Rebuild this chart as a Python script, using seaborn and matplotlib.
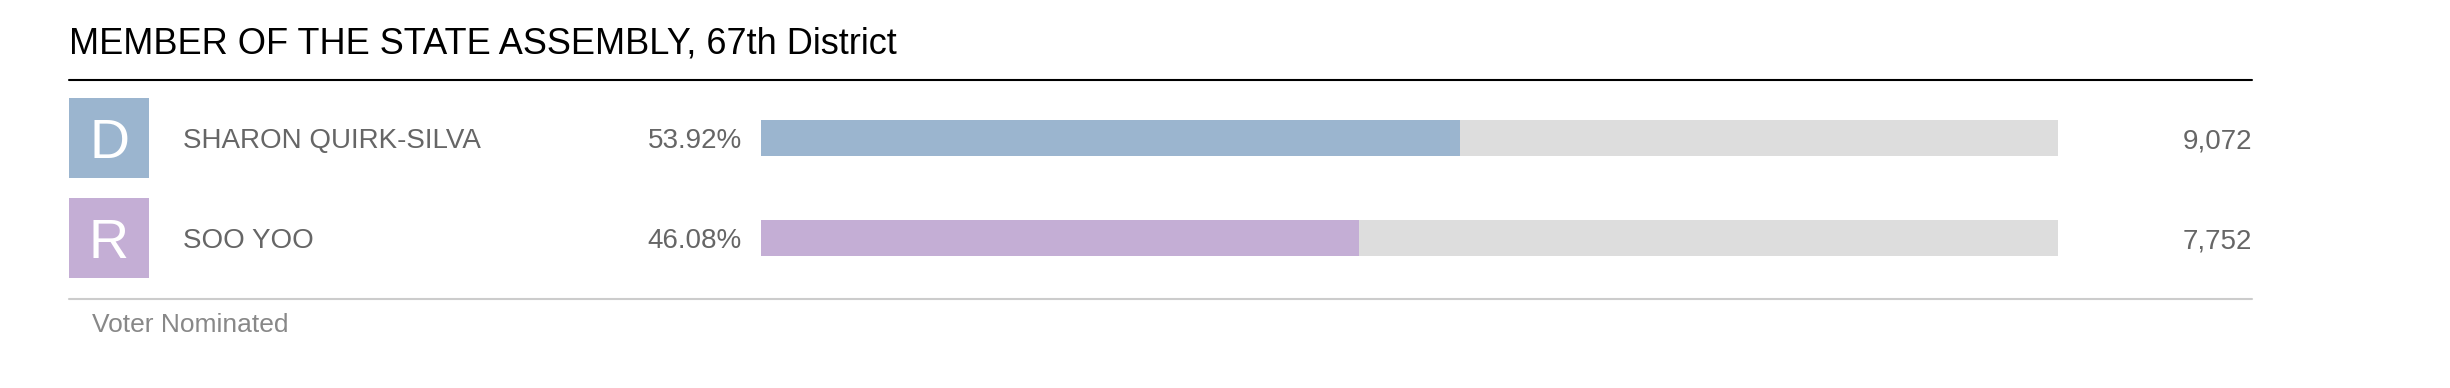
import matplotlib
matplotlib.use("Agg")
import matplotlib.pyplot as plt
import matplotlib.transforms as mtrans
from matplotlib.lines import Line2D
import seaborn as sns
import pandas as pd

# ---- data ----
title = "MEMBER OF THE STATE ASSEMBLY, 67th District"
candidates = ["SHARON QUIRK-SILVA", "SOO YOO"]
parties = ["D", "R"]
pcts = [53.92, 46.08]
votes = [9072, 7752]
footnote = "Voter Nominated"

party_colors = {"D": "#9bb5cf", "R": "#c4aed5"}
track_color = "#dddddd"

sns.set_theme(style="white")
plt.rcParams["font.family"] = ["Liberation Sans", "DejaVu Sans"]

W, H = 2450, 388
fig = plt.figure(figsize=(W / 100, H / 100), dpi=100)

def fx(px):
    return px / W

def fy(py):
    return 1 - py / H

df = pd.DataFrame({"candidate": candidates, "party": parties, "pct": pcts,
                   "track": [100] * len(candidates), "one": [1] * len(candidates)})

# bars axes: rows centred at y=138 and y=238 px
ax = fig.add_axes([fx(761), fy(288), fx(2058) - fx(761), (288 - 88) / H])
sns.barplot(data=df, x="track", y="candidate", color=track_color, width=0.36,
            ax=ax, saturation=1, linewidth=0)
sns.barplot(data=df, x="pct", y="candidate", hue="party", palette=party_colors,
            dodge=False, width=0.36, ax=ax, legend=False, saturation=1,
            linewidth=0)
ax.set_xlim(0, 100)
ax.set_ylim(len(candidates) - 0.5, -0.5)
ax.axis("off")

# party boxes axes
axb = fig.add_axes([fx(69), fy(288), fx(149) - fx(69), (288 - 88) / H])
sns.barplot(data=df, x="one", y="candidate", hue="party", palette=party_colors,
            dodge=False, width=0.8, ax=axb, legend=False, saturation=1,
            linewidth=0)
axb.set_xlim(0, 1)
axb.set_ylim(len(candidates) - 0.5, -0.5)
axb.axis("off")
for i, p in enumerate(parties):
    axb.text(0.5, i, p, ha="center", va="center_baseline", color="white",
             fontsize=40, fontweight="light")

tr = mtrans.blended_transform_factory(fig.transFigure, ax.transData)
for i, (name, pct, v) in enumerate(zip(candidates, pcts, votes)):
    ax.text(fx(183), i, name, transform=tr, ha="left", va="center_baseline",
            fontsize=20, color="#666666")
    ax.text(fx(742), i, f"{pct:.2f}%", transform=tr, ha="right",
            va="center_baseline", fontsize=20, color="#666666")
    ax.text(fx(2252), i, f"{v:,}", transform=tr, ha="right",
            va="center_baseline", fontsize=20, color="#666666")

# title and rules
fig.text(fx(69), fy(53), title, ha="left", va="baseline", fontsize=26,
         color="black")
fig.add_artist(Line2D([fx(69), fx(2252)], [fy(80), fy(80)], color="black",
                      linewidth=1.5))
fig.add_artist(Line2D([fx(69), fx(2252)], [fy(299), fy(299)], color="#cccccc",
                      linewidth=1.5))
fig.text(fx(92), fy(332), footnote, ha="left", va="baseline", fontsize=19,
         color="#888888")

fig.savefig("out.png", dpi=100, facecolor="white")
